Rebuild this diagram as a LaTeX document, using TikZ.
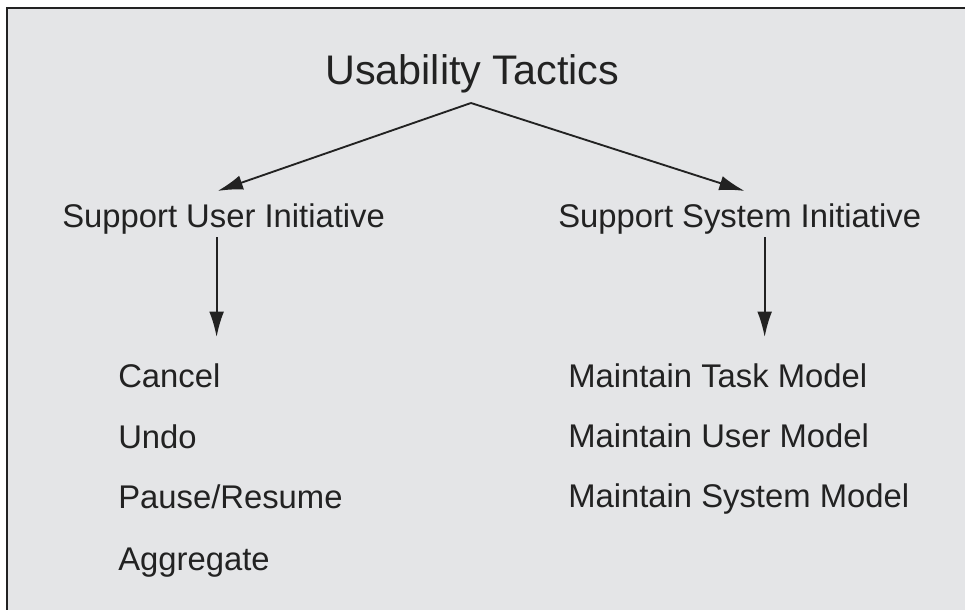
\documentclass[tikz,border=0pt]{standalone}
\usepackage{fontspec}
\setmainfont{Liberation Sans}
\usepackage{xcolor}
\usepackage{tikz}
\usetikzlibrary{arrows.meta}
\definecolor{panelgray}{HTML}{E4E5E7}
\definecolor{inkgray}{HTML}{222222}
\tikzset{
title/.style={
anchor=base west,
inner sep=0pt,
text=inkgray,
font=\fontsize{31pt}{36pt}\selectfont
},
branch/.style={
anchor=base west,
inner sep=0pt,
text=inkgray,
font=\fontsize{24.6pt}{30pt}\selectfont
},
tactic/.style={
branch
},
arrow/.style={
-{Latex[length=19pt,width=11pt]},
draw=inkgray,
line width=1.4pt
}
}

\begin{document}
\begin{tikzpicture}[x=0.75pt,y=-0.75pt]
\useasboundingbox (0,0) rectangle (965,610);
\fill[panelgray] (7,8) rectangle (965,610);
\draw[inkgray,line width=1.6pt] (7,610) -- (7,8) -- (965,8);

\node[title](usab) at (325,85){Usability Tactics};
\node[branch](user) at (62,227){Support User Initiative};
\node[branch](sys) at (558,227){Support System Initiative};

\foreach \n/\t/\y in {cancel/Cancel/387,undo/Undo/448,pause/{Pause/Resume}/508,aggr/Aggregate/570}
\node[tactic](\n) at (118,\y){\t};
\foreach \n/\t/\y in {task/Maintain Task Model/387,umod/Maintain User Model/447,smod/Maintain System Model/507}
\node[tactic](\n) at (568,\y){\t};

\coordinate (fork) at (471,103);
\draw[arrow](fork) -- ([shift={(-6,-12)}]user.north);
\draw[arrow](fork) -- ([shift={(5,-12)}]sys.north);

\draw[arrow]([shift={(-7,3)}]user.south) -- ([shift={(-7,103)}]user.south);
\draw[arrow]([shift={(25,3)}]sys.south) -- ([shift={(25,103)}]sys.south);
\end{tikzpicture}
\end{document}
